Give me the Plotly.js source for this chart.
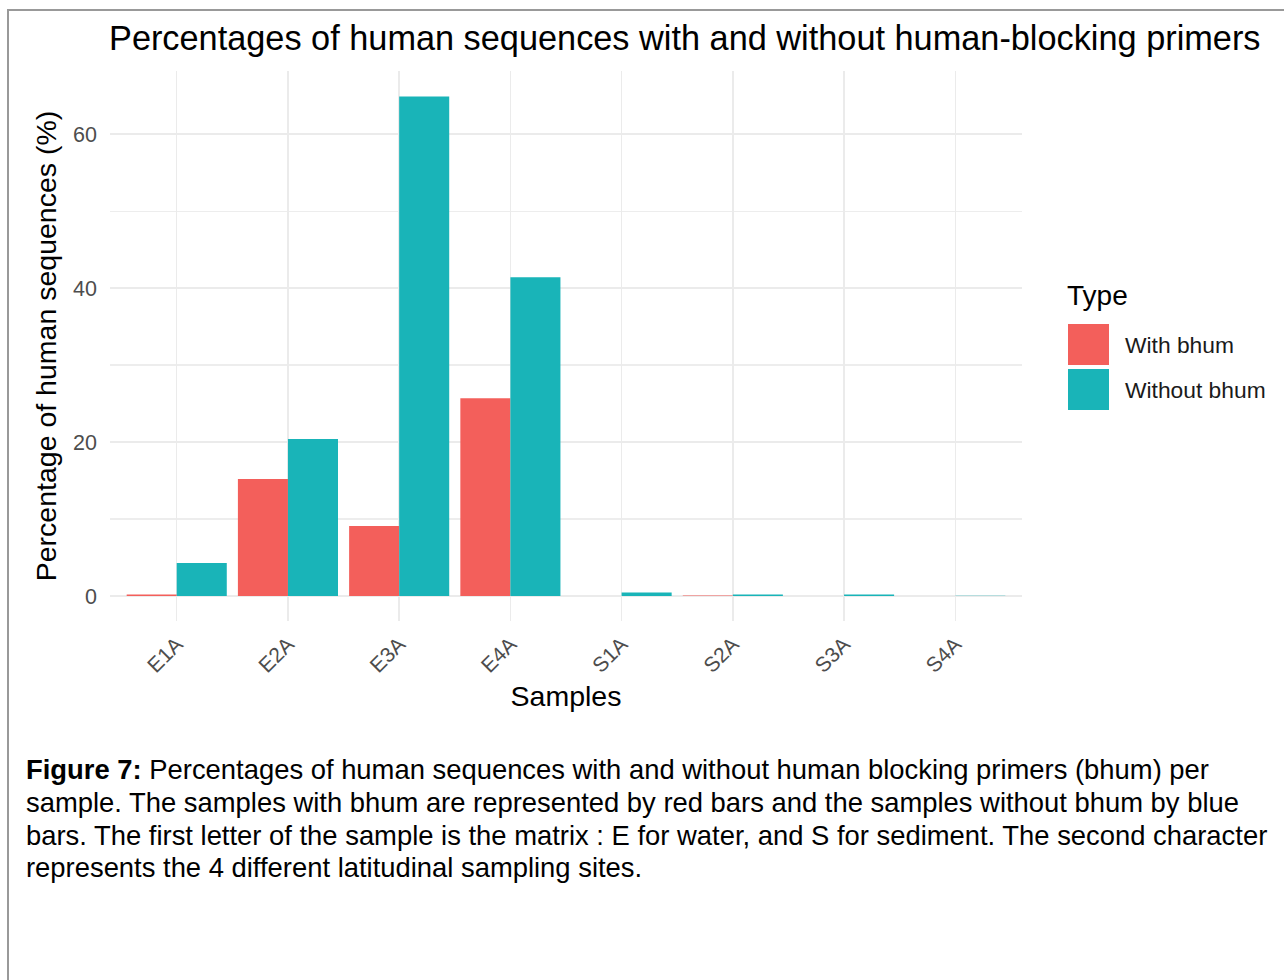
<!DOCTYPE html>
<html>
<head>
<meta charset="utf-8">
<script src="https://cdn.plot.ly/plotly-3.0.1.min.js"></script>
<style>
html,body{margin:0;padding:0;background:#fff;}
#chart{width:1284px;height:980px;}
</style>
</head>
<body>
<div id="chart"></div>
<script>
// ---- data ----
const samples = ["E1A","E2A","E3A","E4A","S1A","S2A","S3A","S4A"];
const seriesNames = ["With bhum","Without bhum"];
const withBhum = [0.2, 15.2, 9.1, 25.7, 0.0, 0.05, 0.0, 0.0];
const withoutBhum = [4.3, 20.4, 64.9, 41.4, 0.45, 0.2, 0.2, 0.04];
const seriesColors = ["#F35F5B", "#19B4B8"];
const yTicks = [0, 20, 40, 60];
const captionLines = [
  "<b>Figure 7:</b> Percentages of human sequences with and without human blocking primers (bhum) per",
  "sample. The samples with bhum are represented by red bars and the samples without bhum by blue",
  "bars. The first letter of the sample is the matrix : E for water, and S for sediment. The second character",
  "represents the 4 different latitudinal sampling sites."
];
const titleText = "Percentages of human sequences with and without human-blocking primers";
const xTitle = "Samples";
const yTitle = "Percentage of human sequences (%)";
const legendTitle = "Type";

// ---- layout geometry (pixels) ----
const W = 1284, H = 980;
const L = 110, R = 1022, T = 71, B = 621;
const pw = R - L, ph = B - T;
const px = x => (x - L) / pw;
const py = y => (B - y) / ph;

const FONT = "Liberation Sans, Arial, Helvetica, sans-serif";

const traces = [
  {type: "bar", name: seriesNames[0], x: samples, y: withBhum,
   marker: {color: seriesColors[0], line: {width: 0}}, hoverinfo: "x+y+name"},
  {type: "bar", name: seriesNames[1], x: samples, y: withoutBhum,
   marker: {color: seriesColors[1], line: {width: 0}}, hoverinfo: "x+y+name"}
];

const annotations = [];
const shapes = [];

// caption
const capY = [769, 802, 835, 867];
captionLines.forEach((t, i) => {
  annotations.push({xref: "paper", yref: "paper", x: px(24), y: py(capY[i]),
    xanchor: "left", yanchor: "middle", showarrow: false, text: t,
    font: {family: FONT, size: 27.4, color: "#000"}});
});

// manual legend
annotations.push({xref: "paper", yref: "paper", x: px(1065), y: py(295),
  xanchor: "left", yanchor: "middle", showarrow: false, text: legendTitle,
  font: {family: FONT, size: 28, color: "#000"}});
const keyTop = [324, 369];
seriesNames.forEach((n, i) => {
  shapes.push({type: "rect", xref: "paper", yref: "paper",
    x0: px(1068), x1: px(1109), y0: py(keyTop[i] + 41), y1: py(keyTop[i]),
    fillcolor: seriesColors[i], line: {width: 0}});
  annotations.push({xref: "paper", yref: "paper", x: px(1123), y: py(keyTop[i] + 21),
    xanchor: "left", yanchor: "middle", showarrow: false, text: n,
    font: {family: FONT, size: 22.8, color: "#1a1a1a"}});
});

// outer frame
shapes.push({type: "rect", xref: "paper", yref: "paper",
  x0: px(8), x1: px(1300), y0: py(1000), y1: py(10),
  fillcolor: "rgba(0,0,0,0)", line: {color: "#999", width: 2}});

const layout = {
  width: W, height: H,
  margin: {l: L, r: W - R, t: T, b: H - B, pad: 0},
  paper_bgcolor: "#fff", plot_bgcolor: "#fff",
  showlegend: false,
  barmode: "group", bargap: 0.1, bargroupgap: 0,
  font: {family: FONT},
  title: {text: titleText, x: 109 / W, xref: "container", xanchor: "left",
    y: 1 - 38 / H, yref: "container", yanchor: "middle",
    font: {family: FONT, size: 34.3, color: "#000"}},
  xaxis: {
    type: "category", range: [-0.6, 7.6], showgrid: true, gridcolor: "#ebebeb", gridwidth: 1.5,
    zeroline: false, showline: false, ticks: "", ticklen: 0, ticklabelstandoff: 6,
    tickangle: -45, tickfont: {family: FONT, size: 21, color: "#4d4d4d"},
    title: {text: xTitle, font: {family: FONT, size: 28.5, color: "#000"}, standoff: 10}
  },
  yaxis: {
    range: [-3.25, 68.2], tickvals: yTicks, ticktext: yTicks.map(String),
    showgrid: true, gridcolor: "#ebebeb", gridwidth: 1.5, zeroline: false, showline: false,
    ticks: "", ticklabelstandoff: 12, tickfont: {family: FONT, size: 21.5, color: "#4d4d4d"},
    minor: {tickvals: [10, 30, 50], showgrid: true, gridcolor: "#ededed", gridwidth: 1.2},
    title: {text: yTitle, font: {family: FONT, size: 28.5, color: "#000"}, standoff: 8}
  },
  annotations: annotations,
  shapes: shapes
};

Plotly.newPlot("chart", traces, layout, {displayModeBar: false, staticPlot: true});
</script>
</body>
</html>
